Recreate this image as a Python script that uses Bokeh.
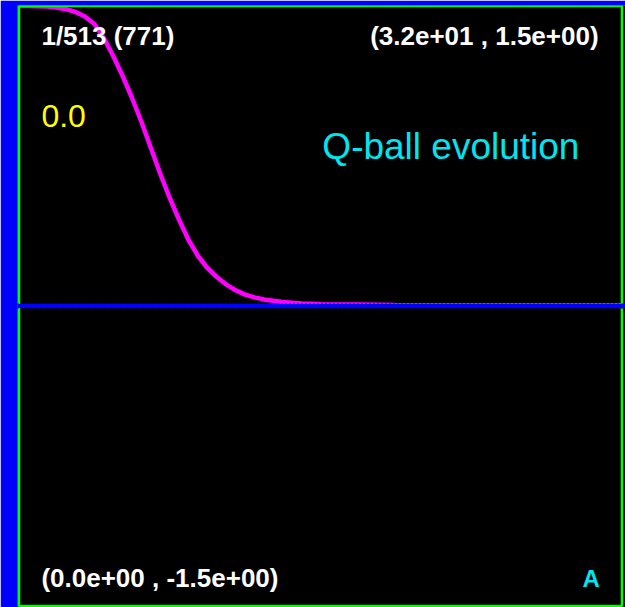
from bokeh.plotting import figure
from bokeh.models import Range1d, BoxAnnotation, Span, Label
from bokeh.embed import file_html
from bokeh.resources import INLINE

# data
x_vals = [0.0, 0.5, 1.0, 1.5, 2.0, 2.5, 3.0, 3.5, 4.0, 4.5, 5.0, 5.5, 6.0, 6.5, 7.0, 7.5,
          8.0, 8.5, 9.0, 9.5, 10.0, 10.5, 11.0, 11.5, 12.0, 12.5, 13.0, 13.5, 14.0, 14.5,
          15.0, 15.5, 16.0, 17.0, 18.0, 19.0, 20.0, 22.0, 24.0, 26.0, 28.0, 30.0, 32.0]
y_vals = [1.500, 1.500, 1.499, 1.497, 1.492, 1.484, 1.470, 1.447, 1.41, 1.34, 1.25, 1.15,
          1.04, 0.92, 0.79, 0.66, 0.54, 0.43, 0.33, 0.25, 0.19, 0.145, 0.107, 0.079, 0.057,
          0.043, 0.033, 0.026, 0.020, 0.016, 0.013, 0.011, 0.009, 0.008, 0.007, 0.006,
          0.005, 0.004, 0.004, 0.004, 0.004, 0.004, 0.004]

x_min, x_max = 0.0, 32.0
y_min, y_max = -1.5, 1.5
step_label = "1/513 (771)"
time_label = "0.0"
title_label = "Q-ball evolution"
top_right = "(3.2e+01 , 1.5e+00)"
bottom_left = "(0.0e+00 , -1.5e+00)"
var_label = "A"

p = figure(width=625, height=607, output_backend="svg", toolbar_location=None,
           x_range=Range1d(-0.08, 32.19), y_range=Range1d(-1.5075, 1.5025),
           x_axis_location=None, y_axis_location=None,
           min_border_left=17, min_border_top=5, min_border_right=0, min_border_bottom=0,
           border_fill_color="#0000ff", background_fill_color="black",
           outline_line_color=None)
p.grid.visible = False

p.add_layout(BoxAnnotation(left=x_min, right=x_max, bottom=y_min, top=y_max,
                           fill_alpha=0, line_color="#00ff00", line_alpha=1.0,
                           line_width=2.5))

p.add_layout(Span(location=0, dimension="width", line_color="#0000ff", line_width=4))
p.add_layout(Span(location=0, dimension="width", line_color="#0000ff", line_width=6,
                  line_dash="1 3"))

p.line(x_vals, y_vals, line_color="#ff00ff", line_width=4.5)

font = "Liberation Sans"
def lab(x, y, t, color, size, bold=True, align="left"):
    p.add_layout(Label(x=x, y=y, text=t, text_color=color, text_font=font,
                       text_font_size=f"{size}px",
                       text_font_style="bold" if bold else "normal",
                       text_align=align, text_baseline="alphabetic"))

lab(1.19, 1.35, step_label, "white", 26)
lab(30.76, 1.35, top_right, "white", 26, align="right")
lab(1.19, 0.95, time_label, "#ffff00", 32, bold=False)
lab(16.1, 0.80, title_label, "#00e5ee", 37, bold=False)
lab(1.19, -1.36, bottom_left, "white", 26)
lab(29.91, -1.36, var_label, "#00e5ee", 24)

open("out.html", "w").write(file_html(p, INLINE))
